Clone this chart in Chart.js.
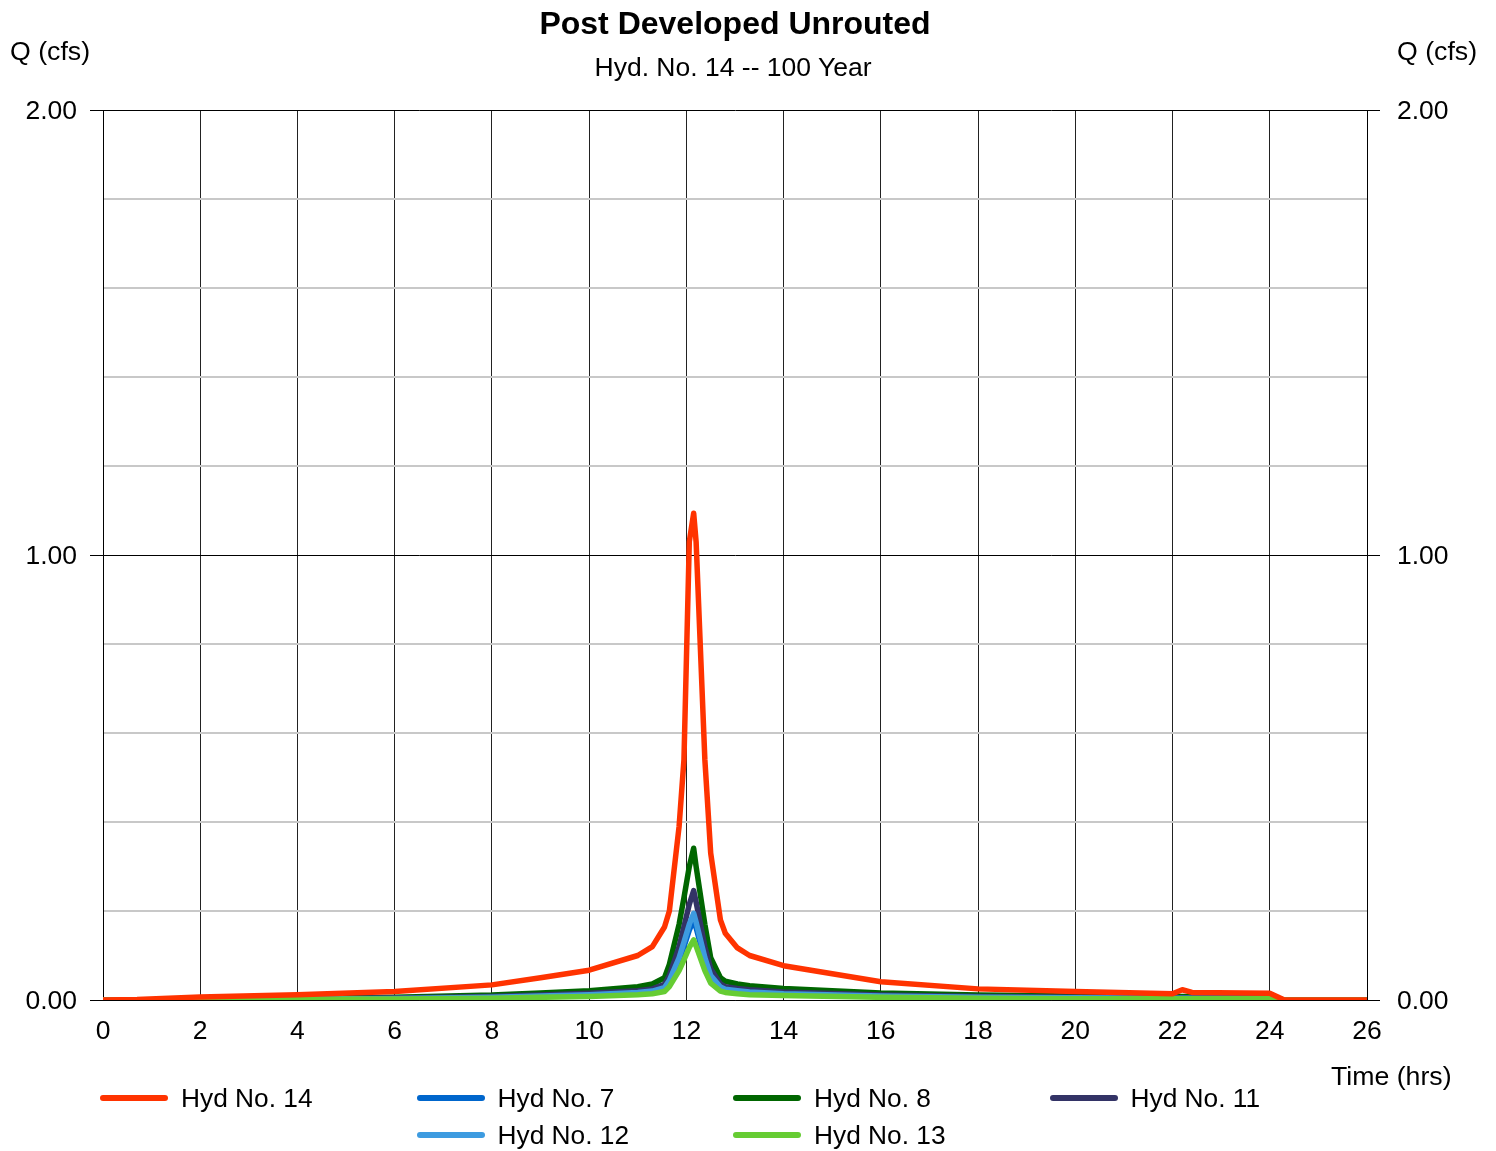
<!DOCTYPE html>
<html>
<head>
<meta charset="utf-8">
<script src="https://cdn.jsdelivr.net/npm/chart.js@4"></script>
<style>
  body { margin: 0; background: #fff; font-family: "Liberation Sans", Arial, sans-serif; color: #000; }
  .wrap { position: relative; width: 1496px; height: 1151px; }
  canvas { position: absolute; left: 0; top: 0; }
  .txt { position: absolute; white-space: nowrap; font-size: 26.7px; line-height: 1; }
  .title { left: 0; width: 1470px; text-align: center; top: 7px; font-size: 32px; font-weight: bold; }
  .subtitle { left: 0; width: 1466px; text-align: center; top: 54px; font-size: 26.5px; }
  .legend { position: absolute; left: 100px; top: 1083px; display: grid;
            grid-template-columns: repeat(4, 316.5px); row-gap: 7px; font-size: 26.3px; }
  .legend .item { display: flex; align-items: center; height: 30px; }
  .legend .swatch { width: 68px; height: 6px; border-radius: 3px; margin-right: 13px; }
  .legend .item:nth-child(5) { grid-column-start: 2; }
</style>
</head>
<body>
<div class="wrap">
  <canvas id="myChart" width="1496" height="1151"></canvas>
  <div class="txt title">Post Developed Unrouted</div>
  <div class="txt subtitle">Hyd. No. 14 -- 100 Year</div>
  <div class="txt" style="left:10px; top:38px;">Q (cfs)</div>
  <div class="txt" style="left:1397px; top:38px;">Q (cfs)</div>
  <div class="txt" style="left:1331px; top:1063px;">Time (hrs)</div>
  <div class="legend" id="legend"></div>
</div>
<script>
'use strict';

// time steps (hrs) shared by every hydrograph
const hours = [0, 0.7, 2, 4, 6, 8, 9, 10, 11, 11.3, 11.55, 11.65, 11.85, 11.95, 12.06, 12.15, 12.2,
  12.38, 12.5, 12.7, 12.8, 13.05, 13.3, 14, 16, 18, 20, 22, 22.2, 22.4, 24, 24.3, 26];

// flows (cfs)
const hyd14 = [0, 0.001, 0.007, 0.012, 0.019, 0.034, 0.05, 0.067, 0.1, 0.12, 0.164, 0.2, 0.39, 0.54, 1.03, 1.094, 1.03,
  0.54, 0.33, 0.18, 0.15, 0.117, 0.1, 0.077, 0.041, 0.025, 0.019, 0.014, 0.023, 0.017, 0.015, 0, 0];
const hyd7 = [0, 0, 0.0011, 0.0023, 0.0033, 0.0055, 0.008, 0.011, 0.016, 0.019, 0.026, 0.041, 0.088, 0.12, 0.157, 0.18, 0.162,
  0.088, 0.051, 0.027, 0.022, 0.019, 0.017, 0.013, 0.008, 0.006, 0.004, 0.004, 0.004, 0.004, 0.004, 0, 0];
const hyd8 = [0, 0, 0.002, 0.004, 0.006, 0.011, 0.016, 0.021, 0.03, 0.036, 0.05, 0.08, 0.17, 0.23, 0.3, 0.341, 0.3,
  0.17, 0.095, 0.05, 0.042, 0.036, 0.032, 0.026, 0.016, 0.011, 0.009, 0.008, 0.008, 0.008, 0.007, 0, 0];
const hyd11 = [0, 0, 0.0015, 0.003, 0.0045, 0.008, 0.011, 0.015, 0.021, 0.025, 0.035, 0.055, 0.12, 0.165, 0.215, 0.246, 0.22,
  0.12, 0.07, 0.036, 0.03, 0.026, 0.023, 0.018, 0.011, 0.008, 0.006, 0.005, 0.005, 0.005, 0.005, 0, 0];
const hyd12 = [0, 0, 0.0012, 0.0025, 0.0035, 0.006, 0.009, 0.012, 0.017, 0.02, 0.028, 0.044, 0.095, 0.13, 0.17, 0.195, 0.175,
  0.095, 0.055, 0.029, 0.024, 0.021, 0.018, 0.014, 0.009, 0.006, 0.005, 0.004, 0.004, 0.004, 0.004, 0, 0];
const hyd13 = [0, 0, 0.0008, 0.0017, 0.0025, 0.004, 0.006, 0.008, 0.012, 0.014, 0.019, 0.03, 0.066, 0.09, 0.118, 0.135, 0.121,
  0.066, 0.038, 0.02, 0.017, 0.014, 0.012, 0.01, 0.006, 0.004, 0.003, 0.003, 0.003, 0.003, 0.003, 0, 0];

const seriesNames = ['Hyd No. 14', 'Hyd No. 7', 'Hyd No. 8', 'Hyd No. 11', 'Hyd No. 12', 'Hyd No. 13'];
const seriesData = [hyd14, hyd7, hyd8, hyd11, hyd12, hyd13];
const seriesColors = ['#ff3300', '#0066cc', '#006600', '#333366', '#3d9be0', '#66cc33'];
// lower number is painted on top
const drawOrder = [0, 4, 5, 3, 2, 1];

const xMin = 0, xMax = 26, xStep = 2;
const yMin = 0, yMax = 2, yStep = 0.2;

const FONT = { family: '"Liberation Sans", Arial, sans-serif', size: 26.5 };

const isMajor = (v) => Math.abs(v - Math.round(v)) < 1e-6;

const datasets = seriesNames.map((name, i) => ({
  label: name,
  data: hours.map((h, j) => ({ x: h, y: seriesData[i][j] })),
  borderColor: seriesColors[i],
  backgroundColor: seriesColors[i],
  borderWidth: 5.5,
  borderCapStyle: 'round',
  borderJoinStyle: 'round',
  pointRadius: 0,
  tension: 0,
  order: drawOrder[i],
  yAxisID: 'y',
}));

// legend
const legend = document.getElementById('legend');
seriesNames.forEach((name, i) => {
  legend.insertAdjacentHTML('beforeend',
    `<div class="item"><span class="swatch" style="background:${seriesColors[i]}"></span>${name}</div>`);
});

const yTicks = {
  stepSize: yStep,
  color: '#000',
  font: FONT,
  labelOffset: 2,
  callback: (v) => (isMajor(v) ? v.toFixed(2) : ''),
};

new Chart(document.getElementById('myChart'), {
  type: 'line',
  data: { datasets },
  options: {
    responsive: false,
    animation: false,
    devicePixelRatio: 1,
    layout: { padding: { top: 110, left: 0, right: 0, bottom: 0 } },
    plugins: { legend: { display: false }, tooltip: { enabled: false } },
    scales: {
      x: {
        type: 'linear',
        min: xMin,
        max: xMax,
        afterFit: (s) => { s.height = 151; },
        border: { display: true, color: '#000', width: 1 },
        grid: { color: '#222', lineWidth: 1, drawTicks: false },
        ticks: { stepSize: xStep, color: '#000', font: FONT, padding: 16, maxRotation: 0 },
      },
      y: {
        position: 'left',
        min: yMin,
        max: yMax,
        afterFit: (s) => { s.width = 103; },
        border: { display: true, color: '#000', width: 1 },
        grid: {
          color: (c) => (isMajor(c.tick.value) ? '#000' : '#c8c8c8'),
          lineWidth: (c) => (isMajor(c.tick.value) ? 1 : 2),
          tickColor: (c) => (isMajor(c.tick.value) ? '#000' : 'rgba(0,0,0,0)'),
          tickLength: 13,
        },
        ticks: { ...yTicks, padding: 13 },
      },
      y2: {
        position: 'right',
        min: yMin,
        max: yMax,
        afterFit: (s) => { s.width = 129; },
        border: { display: true, color: '#000', width: 1 },
        grid: {
          drawOnChartArea: false,
          tickColor: (c) => (isMajor(c.tick.value) ? '#000' : 'rgba(0,0,0,0)'),
          tickLength: 13,
        },
        ticks: { ...yTicks, padding: 17 },
      },
    },
  },
});
</script>
</body>
</html>
